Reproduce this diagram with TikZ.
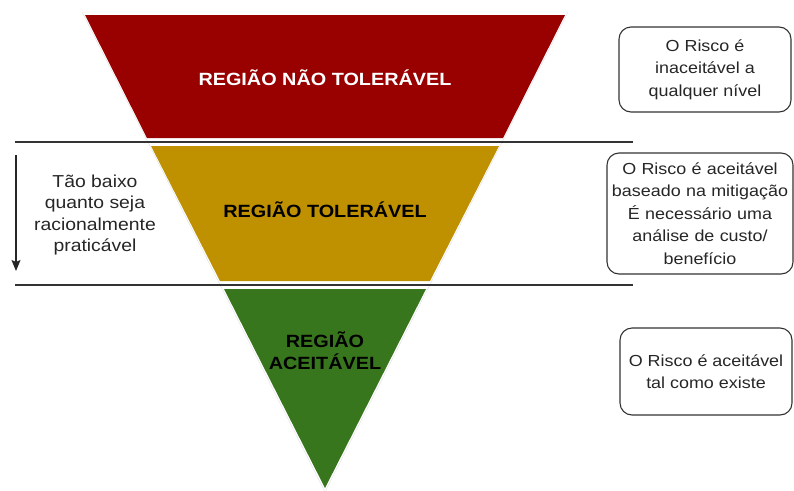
\documentclass[tikz,border=0pt]{standalone}
\usepackage{fontspec}
\setmainfont{Liberation Sans}[FakeStretch=1.12]
\usetikzlibrary{positioning,arrows.meta}
\definecolor{naoTolCor}{RGB}{153,0,0}
\definecolor{tolCor}{RGB}{191,144,0}
\definecolor{aceitCor}{RGB}{56,118,29}
\tikzset{
    regiao/.style={font=\bfseries\fontsize{17.7}{22}\selectfont, align=center},
    nota/.style={font=\fontsize{17.3}{21.5}\selectfont, align=center, text=black!85},
    caixa/.style={draw=black!80, line width=1.1pt, rounded corners=12pt, align=center,
        font=\fontsize{16}{22.5}\selectfont, text=black!85, inner sep=5pt},
    separador/.style={draw=black!80, line width=1.1pt},
}
\begin{document}
\begin{tikzpicture}[x=1pt, y=-1pt]
    \useasboundingbox (0,0) rectangle (794,490);
    % moldura clara
    \draw[black!12] (82,12) -- (568,12) -- (325,492);
    \draw[black!12] (82,12) -- (325,492);
    % regioes
    \fill[naoTolCor] (85,15) -- (565,15) -- (503,138) -- (147,138) -- cycle;
    \fill[tolCor] (151,146) -- (499,146) -- (430,281) -- (220,281) -- cycle;
    \fill[aceitCor] (224,289) -- (426,289) -- (325,488) -- cycle;
    \node[regiao, text=white] (naoTol) at (325,78) {REGIÃO NÃO TOLERÁVEL};
    \node[regiao] (tol) at (325,210) {REGIÃO TOLERÁVEL};
    \node[regiao] (aceit) at (325,351) {REGIÃO\\ACEITÁVEL};
    % separadores
    \coordinate (sep1a) at (15,142);
    \coordinate (sep1b) at (633,142);
    \coordinate (sep2a) at (15,285);
    \coordinate (sep2b) at (633,285);
    \draw[separador] (sep1a) -- (sep1b);
    \draw[separador] (sep2a) -- (sep2b);
    % alarp
    \node[nota] (alarp) at (95,215) {Tão baixo\\quanto seja\\racionalmente\\praticável};
    \coordinate (setaIni) at (16,155);
    \coordinate (setaFim) at (16,271);
    \draw[-{Stealth[length=11pt, width=9pt, inset=2pt]}, black!85, line width=1.1pt] (setaIni) -- (setaFim);
    % caixas
    \node[caixa, minimum width=172, minimum height=85] (risco1) at (705,69.5)
        {O Risco é\\inaceitável a\\qualquer nível};
    \node[caixa, text width=176, minimum height=121] (risco2) at (700,213.5)
        {O Risco é aceitável\\\makebox[\linewidth]{baseado na mitigação}\\É necessário uma\\análise de custo/\\benefício};
    \node[caixa, minimum width=172, minimum height=87] (risco3) at (706,371.5)
        {O Risco é aceitável\\tal como existe};
\end{tikzpicture}
\end{document}
